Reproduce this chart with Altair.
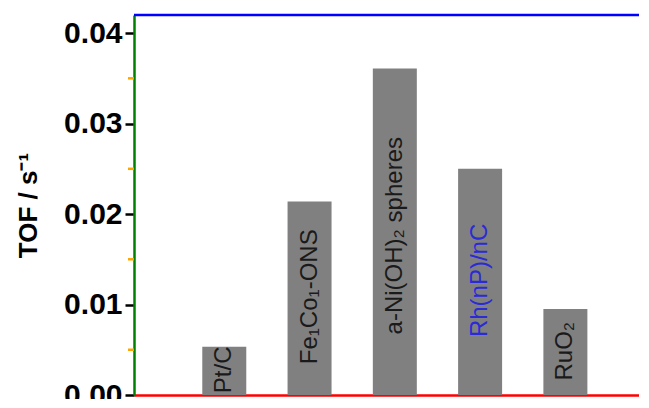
import altair as alt
import pandas as pd

catalysts = ["Pt/C", "Fe₁Co₁-ONS", "a-Ni(OH)₂ spheres", "Rh(nP)/nC", "RuO₂"]
positions = [1, 2, 3, 4, 5]
tof = [0.00534, 0.0214, 0.0361, 0.0250, 0.0095]
label_start = [0.0002, 0.0034, 0.0067, 0.0064, 0.0016]
label_colors = ["#1a1a1a", "#1a1a1a", "#1a1a1a", "#2a2ad6", "#1a1a1a"]
major_ticks = [0.0, 0.01, 0.02, 0.03, 0.04]
minor_ticks = [0.005, 0.015, 0.025, 0.035]
y_max = 0.042

df = pd.DataFrame({"cat": catalysts, "pos": positions, "tof": tof,
                   "lab": label_start, "col": label_colors})
minor_df = pd.DataFrame({"v": minor_ticks})
top_df = pd.DataFrame({"v": [y_max]})

W, H = 505, 380
xscale = alt.Scale(domain=[0, W / 87], nice=False, zero=False)
yscale = alt.Scale(domain=[0, y_max], nice=False)

bars = alt.Chart(df).mark_bar(size=44, color="#808080").encode(
    x=alt.X("pos:Q", scale=xscale,
            axis=alt.Axis(title=None, labels=False, ticks=False, grid=False,
                          domainColor="red", domainWidth=2.5)),
    y=alt.Y("tof:Q", scale=yscale,
            axis=alt.Axis(title="TOF / s⁻¹", values=major_ticks, format=".2f",
                          grid=False, domainColor="green", domainWidth=2.5,
                          tickColor="#000", tickWidth=2.5, tickSize=9,
                          labelFont="Liberation Sans", labelFontSize=30,
                          labelFontWeight="bold", labelColor="#000", labelPadding=3,
                          titleFont="Liberation Sans", titleFontSize=26,
                          titleFontWeight="bold", titleColor="#000",
                          titlePadding=22)),
)

labels = alt.Chart(df).mark_text(angle=270, align="left", baseline="middle",
                                 font="Liberation Sans", fontSize=24).encode(
    x=alt.X("pos:Q", scale=xscale),
    y=alt.Y("lab:Q", scale=yscale),
    text="cat:N",
    color=alt.Color("col:N", scale=None),
)

minor = alt.Chart(minor_df).mark_rule(color="orange", strokeWidth=2.5).encode(
    y=alt.Y("v:Q", scale=yscale),
    x=alt.value(-6),
    x2=alt.value(0),
)

top = alt.Chart(top_df).mark_rule(color="blue", strokeWidth=2.5).encode(
    y=alt.Y("v:Q", scale=yscale),
)

chart = alt.layer(bars, labels, minor, top).properties(
    width=W, height=H,
    autosize=alt.AutoSizeParams(type="none"),
    padding={"left": 126, "top": 7, "right": 0, "bottom": 4},
).configure(background="white", view=alt.ViewConfig(stroke="transparent", strokeWidth=0))

chart.save("out.html", embed_options={"renderer": "svg", "actions": False})
